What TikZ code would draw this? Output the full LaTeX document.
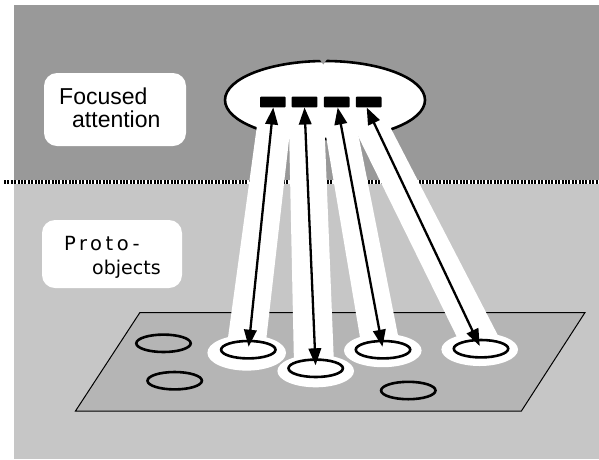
\documentclass[tikz,border=0pt]{standalone}
\usepackage{fontspec}
\usetikzlibrary{shapes.geometric,arrows.meta}
\newfontfamily\labelfont{Liberation Sans}
\newfontfamily\protofont{DejaVu Sans}
\newfontfamily\protospaced[LetterSpace=18]{DejaVu Sans}
\definecolor{darkbg}{RGB}{153,153,153}
\definecolor{lightbg}{RGB}{198,198,198}
\definecolor{planegray}{RGB}{181,181,181}
\tikzset{
  labelbox/.style={draw=none, fill=white, rounded corners=13pt, inner sep=0pt},
  blob/.style={ellipse, draw=black, line width=2.6pt, minimum width=54.4pt, minimum height=17.4pt, inner sep=0pt},
  halo/.style={fill=white},
  beam/.style={fill=white},
  feature/.style={rectangle, fill=black, rounded corners=0.8pt, minimum width=25.6pt, minimum height=10.6pt, inner sep=0pt},
  link/.style={line width=2.3pt, {Triangle[length=17pt,width=12.5pt]}-{Triangle[length=17pt,width=12.5pt]}, shorten >=3pt},
  ftext/.style={font=\labelfont\fontsize{23}{23}\selectfont, inner sep=0pt, anchor=base west},
  ptext/.style={inner sep=0pt, anchor=base west}
}
\begin{document}
\begin{tikzpicture}[x=1pt, y=-1pt]
\useasboundingbox (0,0) rectangle (599,459);
\fill[white] (0,0) rectangle (599,459);
% two layers of the panel
\fill[darkbg] (14,5) rectangle (599,182);
\fill[lightbg] (14,182) rectangle (599,459);
% boundary between the layers
\draw[white, line width=4.5pt] (4,181.8) -- (599,181.8);
\draw[black, line width=4.5pt, dash pattern=on 2pt off 1.4pt] (4,181.8) -- (599,181.8);

% layer labels
\node[labelbox, minimum width=142pt, minimum height=73pt] (fabox) at (115,109.5) {};
\node[ftext] (fa1) at (59,104.3) {Focused};
\node[ftext] (fa2) at (72,127.7) {attention};
\node[labelbox, minimum width=140pt, minimum height=68pt] (pobox) at (112,254) {};
\node[ptext] (po1) at (64,250) {\protospaced\fontsize{19.5}{19.5}\selectfont Proto-};
\node[ptext] (po2) at (92,274) {\protofont\fontsize{19}{19}\selectfont objects};

% image plane
\draw[fill=planegray, line width=1pt] (139.9,312.5) -- (585,312.5) -- (521.4,411) -- (75.5,411) -- cycle;
\node[blob] (o1) at (163.5,343.3) {};
\node[blob] (o2) at (174.7,380.7) {};
\node[blob] (o7) at (408.3,390.5) {};

% spotlight of focused attention
\node[ellipse, draw=black, fill=white, line width=2.6pt, minimum width=200pt, minimum height=78pt, inner sep=0pt] (spot) at (325,100) {};
\fill[darkbg] (318,57) -- (328.5,57) -- (323.3,64.5) -- cycle;

% beams down to the selected proto-objects
\fill[beam] (258,118) -- (291.5,118) -- (265.6,345) -- (227,345) -- cycle;
\fill[beam] (288.8,118) -- (324.1,118) -- (334,365) -- (294,365) -- cycle;
\fill[beam] (323,118) -- (355,118) -- (399.9,345) -- (361.3,345) -- cycle;
\fill[beam] (349.2,118) -- (385.5,118) -- (502.9,345) -- (460.9,345) -- cycle;
\fill[halo] (246.7,352.8) ellipse [x radius=39.3, y radius=17.8];
\fill[halo] (315.7,371) ellipse [x radius=38.3, y radius=16.3];
\fill[halo] (382.8,350.5) ellipse [x radius=38.8, y radius=16.7];
\fill[halo] (479.7,349.5) ellipse [x radius=38.3, y radius=16.5];

% selected proto-objects
\node[blob] (o3) at (248.3,349.7) {};
\node[blob] (o4) at (315.7,368.3) {};
\node[blob] (o5) at (383,349.7) {};
\node[blob] (o6) at (481,348.7) {};

% feature slots inside the spotlight
\node[feature] (r1) at (272.8,102) {};
\node[feature] (r2) at (304.5,102) {};
\node[feature] (r3) at (336.7,102) {};
\node[feature] (r4) at (368.7,102) {};

% two-way links
\draw[link] ([xshift=0.5pt]r1.south) -- (o3.center);
\draw[link] (r2.south) -- (o4.center);
\draw[link] ([xshift=1pt]r3.south) -- (o5.center);
\draw[link] ([xshift=-2pt]r4.south) -- (o6.center);
\end{tikzpicture}
\end{document}
